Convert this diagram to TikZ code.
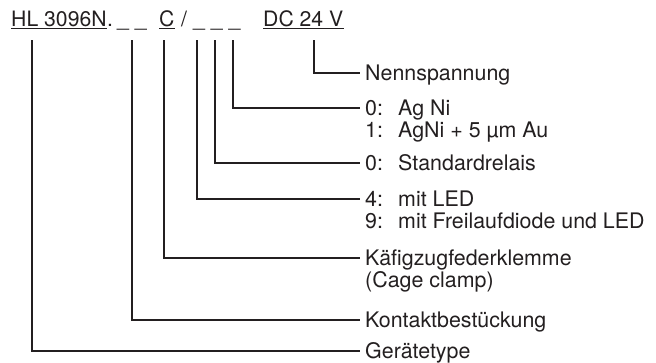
\documentclass[tikz,border=0pt]{standalone}
\usepackage{fontspec}
\setmainfont{TeX Gyre Heros}
\definecolor{ink}{HTML}{231F20}
\begin{document}
\begin{tikzpicture}[x=1pt,y=-1pt,
  lbl/.style={anchor=west, inner sep=0pt, text height=15pt, text depth=0pt,
    font=\fontsize{21.4}{25}\selectfont, text=ink},
  hdr/.style={anchor=base west, inner sep=0pt, font=\fontsize{21.2}{25}\selectfont, text=ink},
  conn/.style={draw=ink, line width=1.1pt},
  uline/.style={draw=ink, line width=1.2pt}]
\useasboundingbox (0,0) rectangle (656,362);

% header
\node[hdr] (hl) at (11,26) {HL 3096N};
\node[hdr] (dot) at (hl.base east) {.};
\node[hdr] (d1) at (117,26) {\_ \_};
\node[hdr] (cc) at (159,26) {C};
\node[hdr] (sl) at (181,26) {/};
\node[hdr] (d2) at (193,26) {\_ \_ \_};
\node[hdr] (dc) at (263,26) {DC 24 V};
\draw[uline] ([yshift=-2.5pt]hl.base west) -- ([yshift=-2.5pt]hl.base east);
\draw[uline] ([yshift=-2.5pt]cc.base west) -- ([yshift=-2.5pt]cc.base east);
\draw[uline] ([yshift=-2.5pt]dc.base west) -- ([yshift=-2.5pt]dc.base east);

% labels
\node[lbl] (nenn) at (365,73) {Nennspannung};
\node[lbl] (ag0) at (365,108) {\makebox[33pt][l]{0:}Ag Ni};
\node[lbl] (ag1) at (365,129.5) {\makebox[33pt][l]{1:}AgNi + 5 µm Au};
\node[lbl] (std) at (365,163) {\makebox[33pt][l]{0:}Standardrelais};
\node[lbl] (led4) at (365,199) {\makebox[33pt][l]{4:}mit LED};
\node[lbl] (led9) at (365,220.5) {\makebox[33pt][l]{9:}mit Freilaufdiode und LED};
\node[lbl] (kaef) at (365,258) {Käfigzugfederklemme};
\node[lbl] (cage) at (365,279.5) {(Cage clamp)};
\node[lbl] (kont) at (365,320) {Kontaktbestückung};
\node[lbl] (gera) at (365,351) {Gerätetype};

% connector start points
\coordinate (t1) at (32,40);
\coordinate (t2) at (132,40);
\coordinate (t3) at (164,40);
\coordinate (t4) at (197,40);
\coordinate (t5) at (215,40);
\coordinate (t6) at (233,40);
\coordinate (t7) at (314,40);

\draw[conn] (t1) |- ([xshift=-5pt]gera.west);
\draw[conn] (t2) |- ([xshift=-5pt]kont.west);
\draw[conn] (t3) |- ([xshift=-5pt]kaef.west);
\draw[conn] (t4) |- ([xshift=-5pt]led4.west);
\draw[conn] (t5) |- ([xshift=-5pt]std.west);
\draw[conn] (t6) |- ([xshift=-5pt]ag0.west);
\draw[conn] (t7) |- ([xshift=-5pt]nenn.west);
\end{tikzpicture}
\end{document}
